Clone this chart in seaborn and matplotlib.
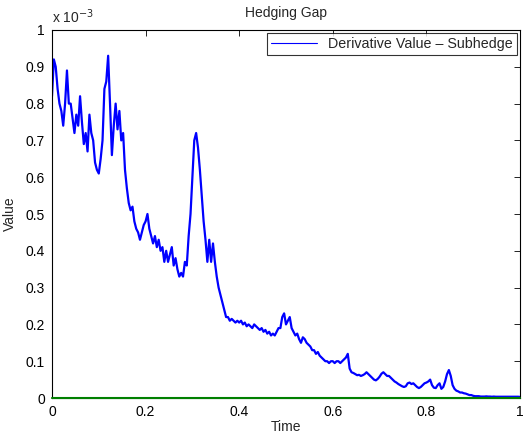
import numpy as np
import pandas as pd
import matplotlib
matplotlib.use("Agg")
import matplotlib.pyplot as plt
from matplotlib.ticker import FuncFormatter
import seaborn as sns

# hedging gap, values in units of 1e-3, sampled every 0.004 in time
gap_values = [
    0.82, 0.92, 0.90, 0.84, 0.80, 0.78, 0.74, 0.80, 0.89, 0.80,
    0.80, 0.76, 0.72, 0.77, 0.74, 0.82, 0.75, 0.69, 0.72, 0.67,
    0.77, 0.72, 0.70, 0.64, 0.62, 0.61, 0.65, 0.70, 0.84, 0.86,
    0.93, 0.80, 0.66, 0.74, 0.80, 0.73, 0.78, 0.70, 0.72, 0.62,
    0.57, 0.53, 0.51, 0.52, 0.48, 0.46, 0.45, 0.43, 0.45, 0.47,
    0.48, 0.50, 0.46, 0.44, 0.42, 0.44, 0.41, 0.43, 0.40, 0.41,
    0.37, 0.40, 0.37, 0.39, 0.41, 0.36, 0.38, 0.35, 0.33, 0.34,
    0.33, 0.37, 0.36, 0.44, 0.50, 0.60, 0.70, 0.72, 0.68, 0.62,
    0.55, 0.48, 0.43, 0.37, 0.43, 0.37, 0.42, 0.37, 0.33, 0.30,
    0.28, 0.26, 0.24, 0.22, 0.22, 0.21, 0.215, 0.21, 0.205, 0.21,
    0.205, 0.21, 0.20, 0.205, 0.195, 0.20, 0.195, 0.19, 0.20, 0.195,
    0.19, 0.185, 0.19, 0.18, 0.185, 0.175, 0.18, 0.17, 0.175, 0.17,
    0.18, 0.19, 0.19, 0.22, 0.23, 0.20, 0.21, 0.22, 0.19, 0.18,
    0.17, 0.175, 0.16, 0.15, 0.165, 0.16, 0.15, 0.145, 0.14, 0.13,
    0.13, 0.12, 0.125, 0.115, 0.11, 0.105, 0.10, 0.10, 0.095, 0.10,
    0.10, 0.095, 0.10, 0.10, 0.095, 0.10, 0.105, 0.11, 0.12, 0.08,
    0.07, 0.068, 0.065, 0.062, 0.063, 0.06, 0.062, 0.065, 0.07, 0.065,
    0.06, 0.055, 0.05, 0.048, 0.052, 0.058, 0.066, 0.07, 0.065, 0.06,
    0.06, 0.055, 0.05, 0.045, 0.042, 0.038, 0.035, 0.032, 0.03, 0.032,
    0.04, 0.042, 0.038, 0.04, 0.035, 0.03, 0.027, 0.03, 0.035, 0.04,
    0.042, 0.045, 0.05, 0.035, 0.028, 0.027, 0.035, 0.04, 0.025, 0.03,
    0.045, 0.065, 0.076, 0.06, 0.035, 0.025, 0.02, 0.018, 0.015, 0.015,
    0.013, 0.012, 0.01, 0.008, 0.008, 0.006, 0.005, 0.005, 0.005, 0.004,
    0.004, 0.004, 0.0045, 0.004, 0.004, 0.0035, 0.004, 0.0035, 0.0035, 0.0035,
    0.0035, 0.0035, 0.0035, 0.0035, 0.0035, 0.0035, 0.0035, 0.0035, 0.0035, 0.0035,
    0.003,
]
time_grid = np.linspace(0, 1, len(gap_values))
zero_line = [0.0, 0.0]
zero_time = [0.0, 1.0]

sns.set_style("white")
plt.rcParams['font.family'] = ['Liberation Sans', 'DejaVu Sans']
plt.rcParams['font.size'] = 10

df = pd.DataFrame({"Time": time_grid, "Value": gap_values})

fig = plt.figure(figsize=(5.24, 4.34), dpi=100)
ax = fig.add_axes([0.0992, 0.0829, 0.8932, 0.848])

sns.lineplot(data=df, x="Time", y="Value", ax=ax, color="#0000ff", lw=1.6,
             sort=False, estimator=None, label="Derivative Value \u2013 Subhedge")
ax.plot(zero_time, zero_line, color="#007f00", lw=1.5, zorder=5, clip_on=False)

ax.set_xlim(0, 1)
ax.set_ylim(0, 1)
ax.set_xticks([0, 0.2, 0.4, 0.6, 0.8, 1])
ax.set_yticks(np.arange(0, 1.01, 0.1))
fmt = FuncFormatter(lambda v, p: "%g" % round(v, 2))
ax.xaxis.set_major_formatter(fmt)
ax.yaxis.set_major_formatter(fmt)
ax.tick_params(direction="in", length=4, width=0.6, top=True, right=True,
               labelsize=10, colors="black", pad=5)
for s in ax.spines.values():
    s.set_visible(True)
    s.set_color("black")
    s.set_linewidth(0.8)

ax.set_xlabel("Time", fontsize=10, labelpad=1)
ax.set_ylabel("Value", fontsize=10, labelpad=6)
ax.set_title("Hedging Gap", fontsize=10, pad=9)
ax.text(0.0, 1.012, r"x 10$^{-3}$", transform=ax.transAxes, fontsize=10,
        ha="left", va="bottom")

leg = ax.legend(loc="upper right", fontsize=10.3, frameon=True, fancybox=False,
                borderaxespad=0.2, handlelength=3.2, borderpad=0.3)
leg.get_frame().set_edgecolor("black")
leg.get_frame().set_linewidth(0.8)
for h in leg.get_lines():
    h.set_linewidth(0.8)

fig.savefig("out.png", dpi=100)
